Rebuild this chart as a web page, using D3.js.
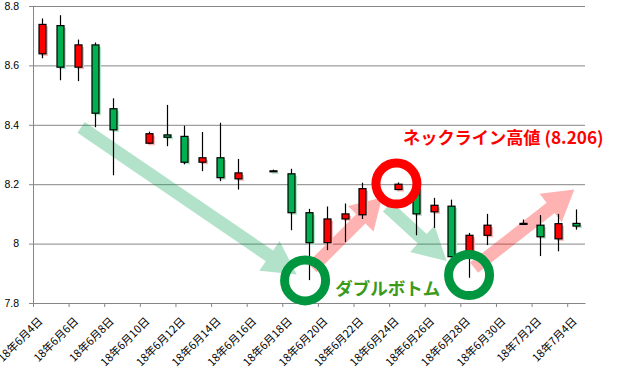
<!DOCTYPE html>
<html><head><meta charset="utf-8">
<script src="https://cdn.jsdelivr.net/npm/d3@7/dist/d3.min.js"></script>
<style>html,body{margin:0;padding:0;background:#fff;}svg{display:block;}</style>
</head><body>
<svg id="chart" width="640" height="380"></svg>
<script>
// ---- data ----
const dates = ["2018-06-04","2018-06-05","2018-06-06","2018-06-07","2018-06-08",
  "2018-06-10","2018-06-11","2018-06-12","2018-06-13","2018-06-14","2018-06-15",
  "2018-06-17","2018-06-18","2018-06-19","2018-06-20","2018-06-21","2018-06-22",
  "2018-06-24","2018-06-25","2018-06-26","2018-06-27","2018-06-28","2018-06-29",
  "2018-07-01","2018-07-02","2018-07-03","2018-07-04"];
const opens  = [8.639,8.734,8.594,8.669,8.454, 8.338,8.366,8.361,8.274,8.289,8.218,
  8.245,8.235,8.104,8.003,8.083,8.097, 8.182,8.190,8.107,8.126,7.957,8.028,
  8.066,8.062,8.016,8.068];
const highs  = [8.758,8.769,8.687,8.677,8.489, 8.377,8.467,8.397,8.376,8.407,8.285,
  8.249,8.252,8.117,8.125,8.135,8.205, 8.206,8.196,8.154,8.148,8.036,8.100,
  8.081,8.096,8.100,8.115];
const lows   = [8.624,8.550,8.547,8.392,8.230, 8.335,8.328,8.267,8.244,8.210,8.182,
  8.242,8.045,7.877,7.978,8.005,8.083, 8.180,8.028,8.053,7.955,7.885,7.995,
  8.065,7.958,7.974,8.047];
const closes = [8.738,8.594,8.669,8.439,8.383, 8.370,8.358,8.274,8.289,8.222,8.238,
  8.243,8.104,8.003,8.083,8.100,8.185, 8.200,8.100,8.129,7.956,8.028,8.062,
  8.068,8.023,8.067,8.059];

const yTickValues = [7.8, 8.0, 8.2, 8.4, 8.6, 8.8];
const yTickLabels = ["7.8","8","8.2","8.4","8.6","8.8"];
const xTickDates = ["2018-06-04","2018-06-06","2018-06-08","2018-06-10","2018-06-12",
  "2018-06-14","2018-06-16","2018-06-18","2018-06-20","2018-06-22","2018-06-24",
  "2018-06-26","2018-06-28","2018-06-30","2018-07-02","2018-07-04"];
const xDomain = ["2018-06-04","2018-07-05"];

// annotations in data space: [days after 2018-06-04, value]
const greenArrows = [ [[2.70, 8.391],[14.81, 7.896]], [[19.90, 8.124],[23.23, 7.941]] ];
const pinkArrows  = [ [[15.67, 7.919],[19.60, 8.155]], [[24.77, 7.919],[30.40, 8.182]] ];
const greenCircles = [ [15.28, 7.876], [24.49, 7.894] ];
const redCircles = [ [20.41, 8.202] ];
const bottomLabel = { text: "ダブルボトム", at: [16.97, 7.826] };
const necklineLabel = { text: "ネックライン高値 (8.206)", at: [20.78, 8.335] };

// ---- drawing ----
const parse = d3.utcParse("%Y-%m-%d");
const svg = d3.select("#chart");
const x = d3.scaleUtc().domain(xDomain.map(parse)).range([33, 585]);
const y = d3.scaleLinear().domain([7.8, 8.8]).range([303, 6]);
const DAY = 864e5;
const start = parse(xDomain[0]).getTime();
const px = d => x(new Date(start + d * DAY));
const gridColor = "#868686";

// gridlines
const grid = svg.append("g").attr("transform", "translate(33,0)")
  .call(d3.axisLeft(y).tickValues(yTickValues).tickSizeInner(-552).tickSizeOuter(0).tickFormat(""));
grid.selectAll("line").attr("stroke", gridColor);
grid.select(".domain").remove();

// y axis
const yAxis = svg.append("g").attr("transform", "translate(33,0)")
  .call(d3.axisLeft(y).tickValues(yTickValues).tickSize(4).tickPadding(10)
    .tickFormat((d, i) => yTickLabels[i]));
yAxis.select(".domain").attr("stroke", gridColor);
yAxis.selectAll("line").attr("stroke", gridColor);
yAxis.selectAll("text").attr("font-family", "'Liberation Sans', Arial, sans-serif")
  .attr("font-size", "10.5px").attr("fill", "#000");

// x axis
const xAxis = svg.append("g").attr("transform", "translate(0,303)")
  .call(d3.axisBottom(x).tickValues(xTickDates.map(parse)).tickSizeInner(4).tickSizeOuter(0).tickFormat(""));
xAxis.select(".domain").attr("stroke", gridColor);
xAxis.selectAll("line").attr("stroke", gridColor);

const fmt = d3.utcFormat("%y年%-m月%-d日");
svg.append("g").selectAll("text").data(xTickDates.map(parse)).join("text")
  .attr("transform", d => `translate(${x(new Date(d.getTime() + DAY / 2)) + 1.5},322) rotate(-45)`)
  .attr("text-anchor", "end")
  .attr("font-family", "'Noto Sans CJK JP', sans-serif")
  .attr("font-size", "11px").attr("fill", "#000")
  .text(d => fmt(d));

// arrows
function arrowPath(p1, p2, sw, hw, hl) {
  const dx = p2[0] - p1[0], dy = p2[1] - p1[1], L = Math.hypot(dx, dy);
  const ux = dx / L, uy = dy / L, nx = -uy, ny = ux;
  const bx = p2[0] - ux * hl, by = p2[1] - uy * hl;
  const pts = [
    [p1[0] + nx * sw / 2, p1[1] + ny * sw / 2],
    [bx + nx * sw / 2, by + ny * sw / 2],
    [bx + nx * hw / 2, by + ny * hw / 2],
    [p2[0], p2[1]],
    [bx - nx * hw / 2, by - ny * hw / 2],
    [bx - nx * sw / 2, by - ny * sw / 2],
    [p1[0] - nx * sw / 2, p1[1] - ny * sw / 2]];
  return "M" + pts.map(p => p.join(",")).join("L") + "Z";
}
const toPx = p => [px(p[0]), y(p[1])];
svg.append("g").selectAll("path").data(greenArrows).join("path")
  .attr("d", a => arrowPath(toPx(a[0]), toPx(a[1]), 13, 36, 33))
  .attr("fill", "rgba(0,160,80,0.30)");
svg.append("g").selectAll("path").data(pinkArrows).join("path")
  .attr("d", a => arrowPath(toPx(a[0]), toPx(a[1]), 13, 36, 30))
  .attr("fill", "rgba(255,0,0,0.30)");

// candles
const candles = dates.map((d, i) => ({
  date: parse(d), o: opens[i], h: highs[i], l: lows[i], c: closes[i], up: closes[i] >= opens[i]
}));
const cx = d => Math.round(x(new Date(d.date.getTime() + DAY / 2))) + 0.5;
const bw = 7;
const cg = svg.append("g");
// shadows
cg.selectAll("rect.sh").data(candles).join("rect").attr("class", "sh")
  .attr("x", d => cx(d) - bw / 2 + 2)
  .attr("y", d => y(Math.max(d.o, d.c)) + 2)
  .attr("width", bw)
  .attr("height", d => Math.max(1, Math.abs(y(d.o) - y(d.c))))
  .attr("fill", d => d.up ? "#ffb6b6" : "#b4e6c8");
// wicks
cg.selectAll("line.wick").data(candles).join("line").attr("class", "wick")
  .attr("x1", cx).attr("x2", cx)
  .attr("y1", d => y(d.h)).attr("y2", d => y(d.l))
  .attr("stroke", "#000").attr("stroke-width", 1.2);
// bodies
cg.selectAll("rect.body").data(candles).join("rect").attr("class", "body")
  .attr("x", d => cx(d) - bw / 2)
  .attr("y", d => y(Math.max(d.o, d.c)))
  .attr("width", bw)
  .attr("height", d => Math.max(1, Math.abs(y(d.o) - y(d.c))))
  .attr("fill", d => d.up ? "#ff0000" : "#00b050")
  .attr("stroke", "#000").attr("stroke-width", 1.2);

// circles
svg.append("g").selectAll("circle").data(greenCircles).join("circle")
  .attr("cx", d => px(d[0])).attr("cy", d => y(d[1])).attr("r", 20.5)
  .attr("fill", "none").attr("stroke", "#009640").attr("stroke-width", 9);
svg.append("g").selectAll("circle").data(redCircles).join("circle")
  .attr("cx", d => px(d[0])).attr("cy", d => y(d[1])).attr("r", 20.5)
  .attr("fill", "none").attr("stroke", "#ff0000").attr("stroke-width", 9);

// labels
svg.append("text")
  .attr("x", px(bottomLabel.at[0])).attr("y", y(bottomLabel.at[1]))
  .attr("font-family", "'Noto Sans CJK JP', sans-serif").attr("font-weight", "bold")
  .attr("font-size", "17.5px").attr("fill", "#3a9a1c")
  .text(bottomLabel.text);
svg.append("text")
  .attr("x", px(necklineLabel.at[0])).attr("y", y(necklineLabel.at[1]))
  .attr("font-family", "'Noto Sans CJK JP', sans-serif").attr("font-weight", "bold")
  .attr("font-size", "17.2px").attr("fill", "#ff0000")
  .text(necklineLabel.text);
</script>
</body></html>
